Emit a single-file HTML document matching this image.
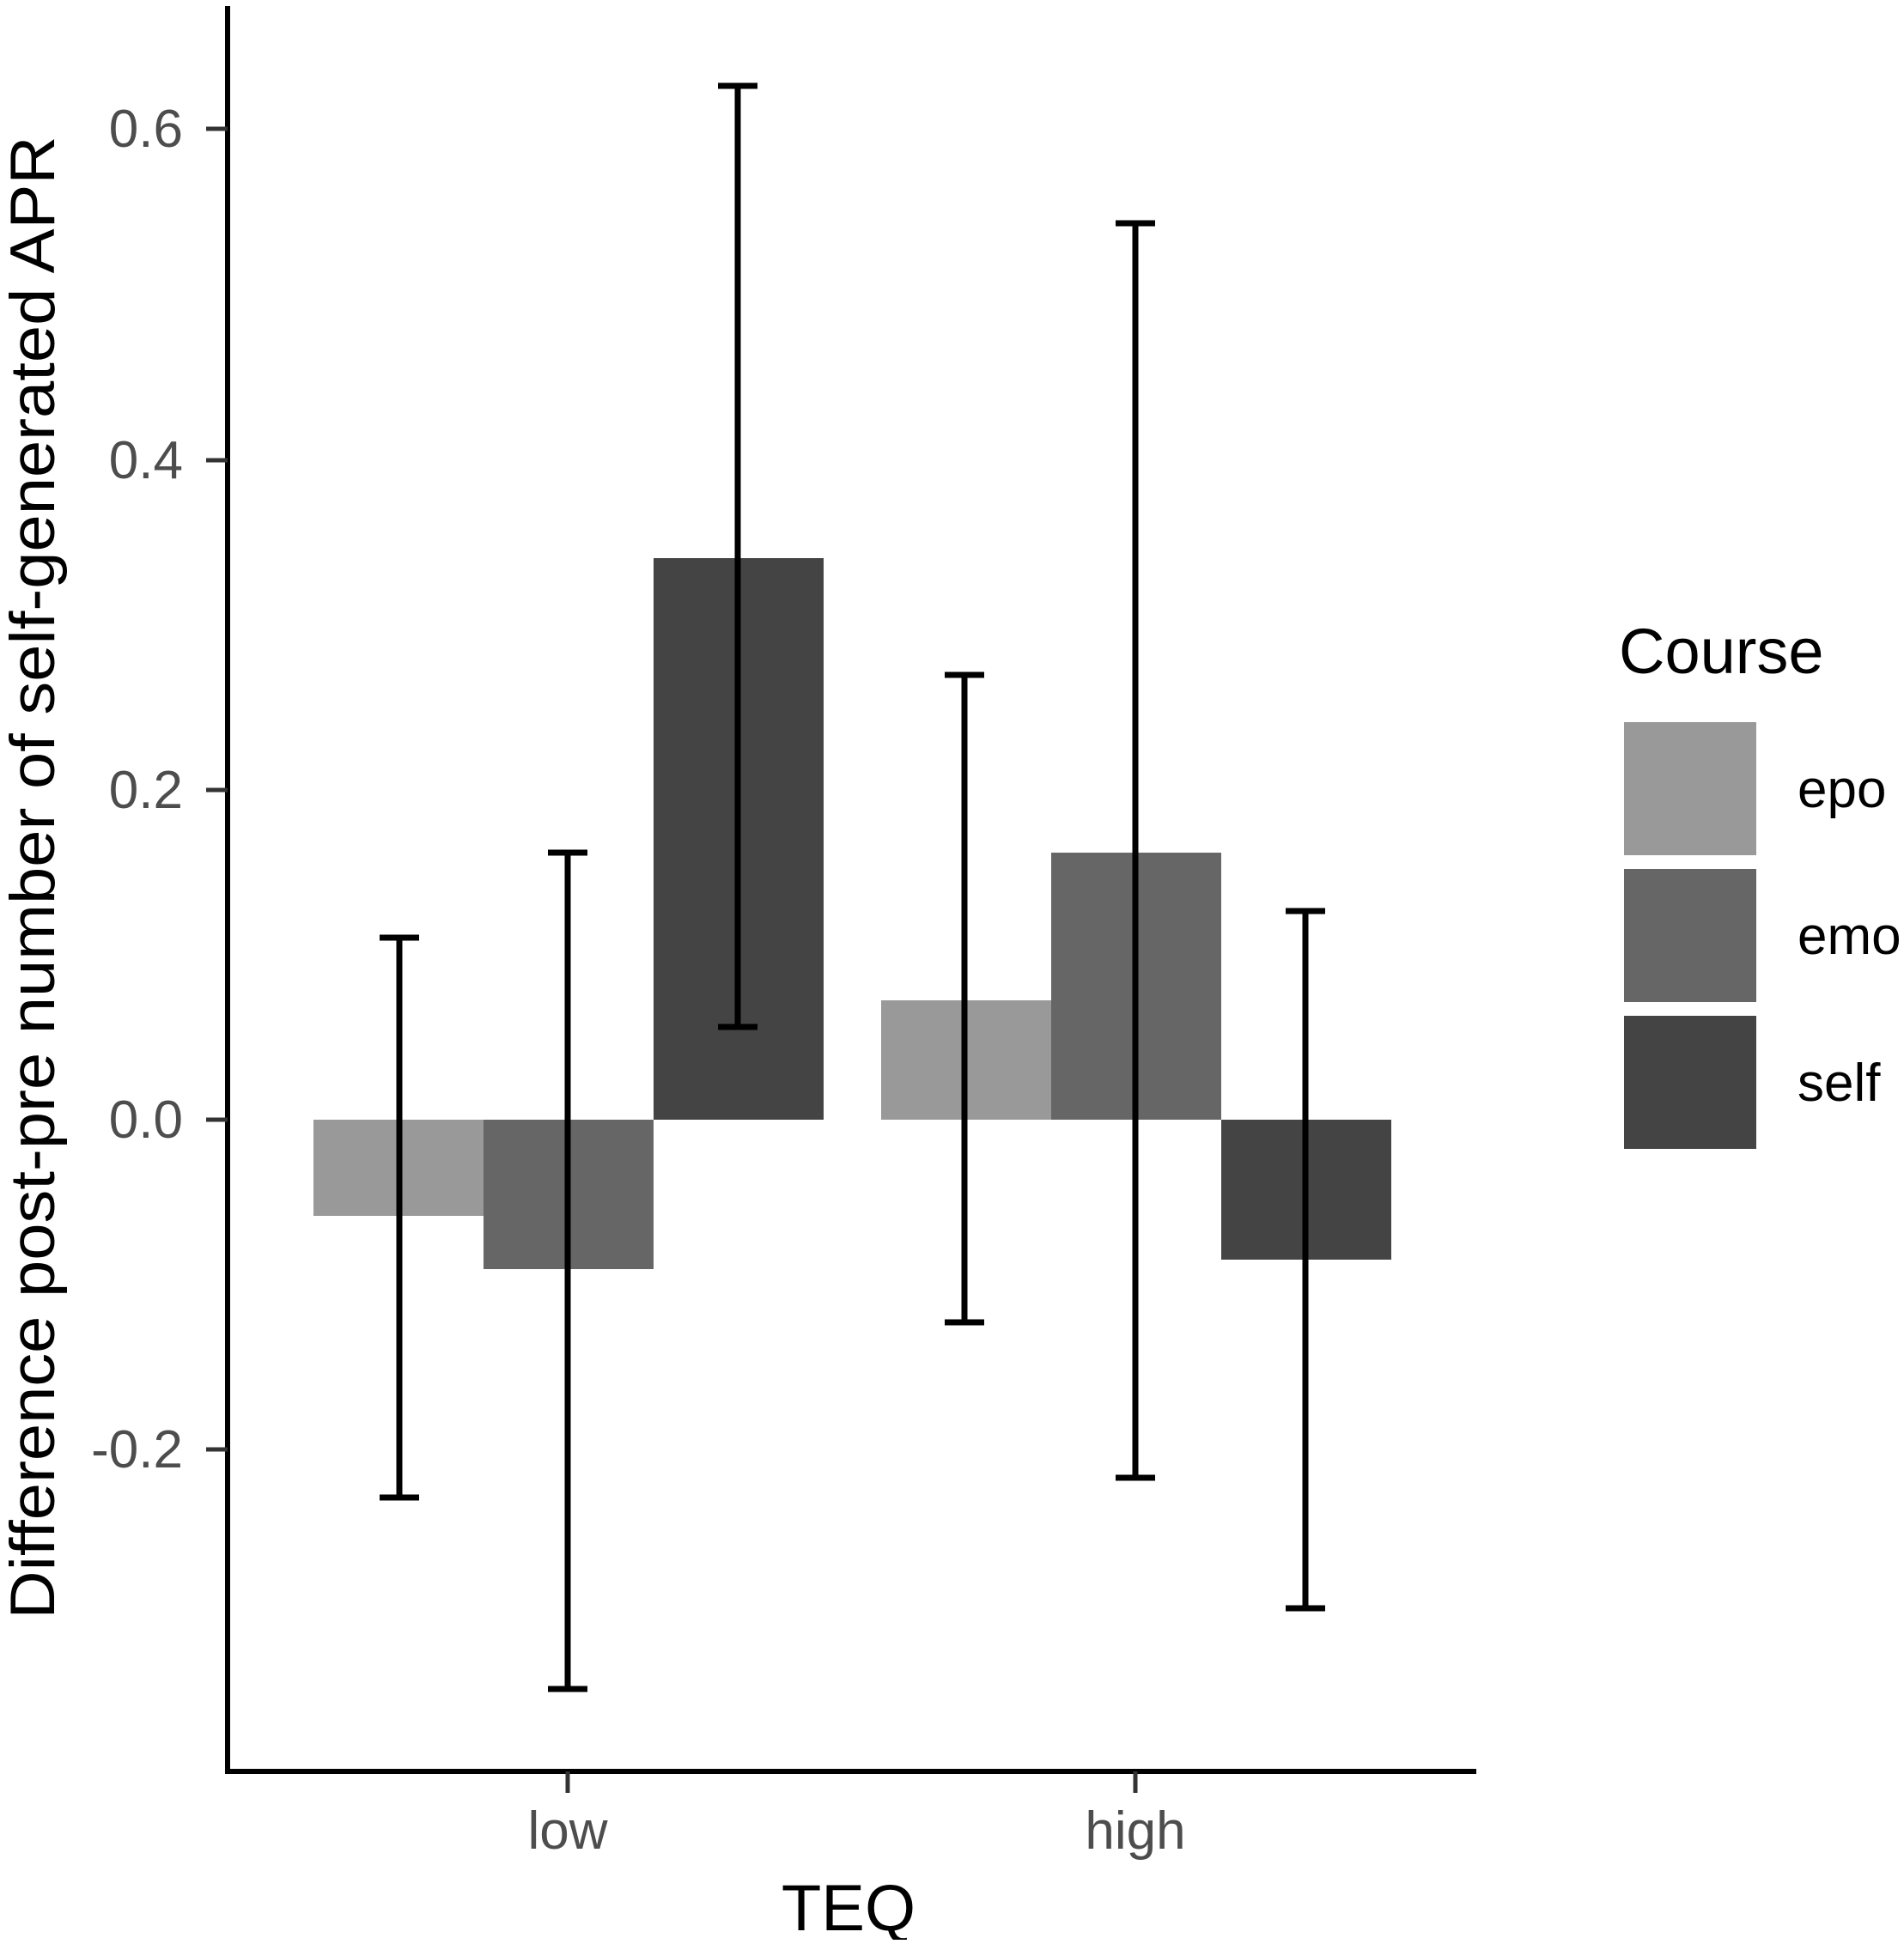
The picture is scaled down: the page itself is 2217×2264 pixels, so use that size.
<!DOCTYPE html>
<html><head><meta charset="utf-8"><style>html,body{margin:0;padding:0;background:#fff}</style></head>
<body>
<svg width="2217" height="2259" viewBox="0 0 2217 2259" xmlns="http://www.w3.org/2000/svg" font-family="Liberation Sans, Arial, sans-serif">
<rect width="2217" height="2259" fill="#fff"/>
<rect x="365" y="1304" width="198" height="112" fill="#999"/>
<rect x="563" y="1304" width="198" height="174" fill="#666"/>
<rect x="761" y="650" width="198" height="654" fill="#444"/>
<rect x="1026" y="1165" width="198" height="139" fill="#999"/>
<rect x="1224" y="993" width="198" height="311" fill="#666"/>
<rect x="1422" y="1304" width="198" height="163" fill="#444"/>
<g stroke="#000" stroke-width="7" fill="none">
<path d="M465 1092V1744M442 1092H488M442 1744H488"/>
<path d="M661 993V1967M638 993H684M638 1967H684"/>
<path d="M859 100V1196M836 100H882M836 1196H882"/>
<path d="M1123 786V1540M1100 786H1146M1100 1540H1146"/>
<path d="M1322 260V1721M1299 260H1345M1299 1721H1345"/>
<path d="M1520 1061V1873M1497 1061H1543M1497 1873H1543"/>
</g>
<g stroke="#000" stroke-width="6" fill="none">
<path d="M265 7V2063H1719"/>
</g>
<g stroke="#333" stroke-width="5">
<path d="M240 150H265M240 536H265M240 920H265M240 1304H265M240 1688H265"/>
<path d="M661 2063V2088M1322 2063V2088"/>
</g>
<g font-size="62" fill="#4d4d4d" text-anchor="end">
<text x="213" y="171">0.6</text>
<text x="213" y="557">0.4</text>
<text x="213" y="941">0.2</text>
<text x="213" y="1325">0.0</text>
<text x="213" y="1709">-0.2</text>
</g>
<g font-size="62" fill="#4d4d4d" text-anchor="middle">
<text x="661" y="2153">low</text>
<text x="1322" y="2153">high</text>
</g>
<text x="988" y="2248" font-size="76" text-anchor="middle" fill="#000">TEQ</text>
<text transform="translate(63,1022) rotate(-90)" font-size="73" text-anchor="middle" fill="#000" textLength="1727" lengthAdjust="spacingAndGlyphs">Difference post-pre number of self-generated APR</text>
<text x="1885" y="784" font-size="74" fill="#000">Course</text>
<rect x="1891" y="841" width="154" height="155" fill="#999"/>
<rect x="1891" y="1012" width="154" height="155" fill="#666"/>
<rect x="1891" y="1183" width="154" height="155" fill="#444"/>
<g font-size="62" fill="#000">
<text x="2093" y="940">epo</text>
<text x="2093" y="1111">emo</text>
<text x="2093" y="1282">self</text>
</g>
</svg>
</body></html>
